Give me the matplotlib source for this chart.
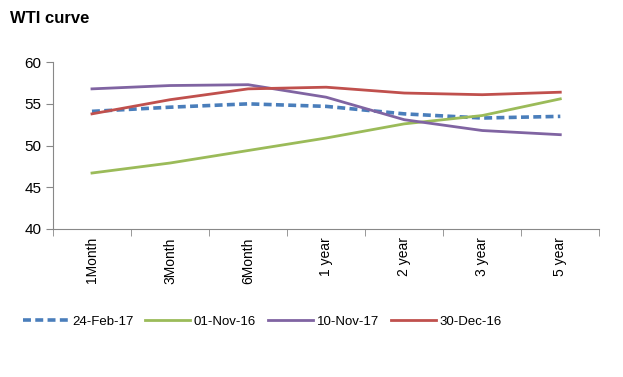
import numpy as np
import matplotlib
matplotlib.use('Agg')
import matplotlib.pyplot as plt

plt.rcParams['font.family'] = ['Liberation Sans', 'DejaVu Sans']

tenors = ['1Month', '3Month', '6Month', '1 year', '2 year', '3 year', '5 year']
feb17 = [54.1, 54.6, 55.0, 54.7, 53.8, 53.3, 53.5]
nov16 = [46.7, 47.9, 49.4, 50.9, 52.6, 53.6, 55.6]
nov17 = [56.8, 57.2, 57.3, 55.8, 53.1, 51.8, 51.3]
dec16 = [53.8, 55.5, 56.8, 57.0, 56.3, 56.1, 56.4]

fig = plt.figure(figsize=(6.23, 3.77), dpi=100)
ax = fig.add_axes([0.085, 0.393, 0.877, 0.442])

x = np.arange(len(tenors))
ax.plot(x, feb17, color='#4a7ebb', lw=2.6, ls=(0, (2.2, 1.2)), label='24-Feb-17')
ax.plot(x, nov16, color='#9bbb59', lw=2.0, label='01-Nov-16')
ax.plot(x, nov17, color='#8064a2', lw=2.0, label='10-Nov-17')
ax.plot(x, dec16, color='#c0504d', lw=2.0, label='30-Dec-16')

ax.set_xlim(-0.5, len(tenors) - 0.5)
ax.set_ylim(40, 60)
ax.set_yticks([40, 45, 50, 55, 60])
ax.set_xticks(x)
ax.set_xticklabels(tenors, rotation=90, fontsize=10)
ax.set_xticks(np.arange(-0.5, len(tenors)), minor=True)
ax.tick_params(axis='x', which='major', length=0, pad=6)
ax.tick_params(axis='x', which='minor', length=5, color='#888888', direction='out')
ax.tick_params(axis='y', length=5, color='#888888', labelsize=11)

for s in ['top', 'right']:
    ax.spines[s].set_visible(False)
for s in ['left', 'bottom']:
    ax.spines[s].set_color('#888888')

fig.text(0.016, 0.95, 'WTI curve', fontsize=12, fontweight='bold', va='center')

fig.legend(loc='center left', bbox_to_anchor=(0.018, 0.147), ncol=4, frameon=False,
           fontsize=9.5, handlelength=3.4, columnspacing=0.9, handletextpad=0.3)

fig.savefig('out.png', dpi=100)
